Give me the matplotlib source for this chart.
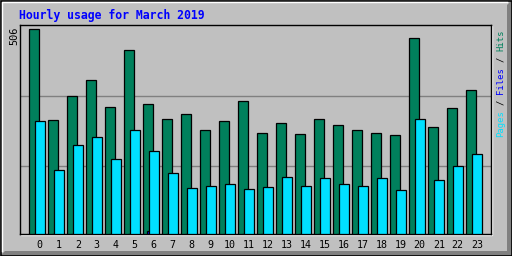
import numpy as np
import matplotlib.pyplot as plt
from matplotlib.patches import Rectangle, Polygon

# hourly values
hours = list(range(24))
hits = [506, 283, 342, 380, 315, 454, 322, 285, 298, 258, 280, 330,
        250, 275, 248, 285, 270, 258, 250, 245, 486, 265, 312, 357]
files = [0, 0, 0, 0, 0, 0, 7, 0, 0, 0, 0, 0,
         0, 0, 0, 0, 0, 0, 0, 0, 0, 0, 0, 0]
pages = [280, 158, 220, 240, 186, 258, 206, 151, 113, 119, 124, 111,
         116, 141, 119, 138, 124, 119, 138, 109, 285, 133, 168, 198]
title = 'Hourly usage for March 2019'
ymax_label = '506'

c_hits = '#00805C'
c_files = '#0000FF'
c_pages = '#00E0FF'
bg = '#C0C0C0'
mono = 'DejaVu Sans Mono'

W, H = 512, 256
fig = plt.figure(figsize=(W / 100, H / 100), dpi=100, facecolor=bg)

# background frame drawn in pixel coordinates
frame = fig.add_axes([0, 0, 1, 1], zorder=-5)
frame.set_xlim(0, W)
frame.set_ylim(H, 0)
frame.axis('off')
frame.add_patch(Polygon([[W, 0], [W, H], [0, H], [5, H - 5], [W - 5, H - 5], [W - 5, 5]],
                        closed=True, color='#808080', lw=0))
frame.plot([1.5, 1.5, W - 5], [H - 5, 1.5, 1.5], color='white', lw=1)
frame.add_patch(Rectangle((0.5, 0.5), W - 1, H - 1, fill=False, ec='black', lw=1.2))
frame.add_patch(Rectangle((21, 26), 471, 209, fill=False, ec='white', lw=1))

ax = fig.add_axes([20 / W, (H - 234) / H, 471 / W, 209 / H], facecolor=bg)

x = np.array(hours, dtype=float)
step = 19.0
bw = 10 / step
ax.bar(x, hits, width=bw, align='edge', color=c_hits, edgecolor='black', lw=0.9, zorder=3)
ax.bar(x + 3.4 / step, files, width=bw, align='edge', color=c_files, edgecolor='black', lw=0.9, zorder=4)
ax.bar(x + 6 / step, pages, width=bw, align='edge', color=c_pages, edgecolor='black', lw=0.9, zorder=5)

ymax = 517
ax.set_ylim(0, ymax)
ax.set_xlim(-9.3 / step, 461.7 / step)
for g in [0.325, 0.662]:
    ax.axhline(g * ymax, color='#808080', lw=1, zorder=1)

ax.set_yticks([])
ax.set_xticks(x + 0.55)
ax.set_xticklabels([str(h) for h in hours], fontsize=7.2, family=mono, color='black')
ax.tick_params(axis='x', length=0, pad=4)
for s in ax.spines.values():
    s.set_color('black')
    s.set_linewidth(1)

fig.text(19 / W, 1 - 19 / H, title, color='#0000FF', fontsize=8.3,
         fontweight='bold', family=mono, va='baseline', ha='left')
fig.text(14 / W, 1 - 27 / H, ymax_label, rotation=90, ha='center', va='top',
         fontsize=7.4, family=mono, color='black')

# right side legend, one colour per word, stacked upward by mono char advance
fs = 6.4
adv = 0.602 * fs * 100 / 72
parts = [('Pages', 0, c_pages), ('/', 6, 'black'), ('Files', 8, c_files),
         ('/', 14, 'black'), ('Hits', 16, c_hits)]
for word, a, col in parts:
    fig.text(501 / W, 1 - (137 - a * adv) / H, word, rotation=90, rotation_mode='anchor',
             ha='left', va='center', fontsize=fs, family=mono, color=col)

fig.savefig('out.png', dpi=100, facecolor=bg)
